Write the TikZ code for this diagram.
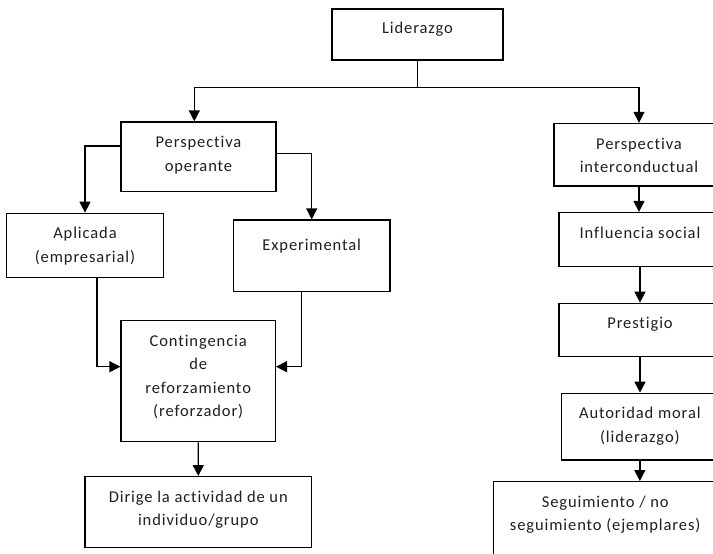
\documentclass[tikz,border=0pt]{standalone}
\usepackage{fontspec}
\setmainfont{Carlito}[LetterSpace=5.5, Ligatures=NoCommon]
\usetikzlibrary{arrows.meta}
\newcommand\bxt[4][25.5]{\parbox[c][#3pt][t]{#2pt}{\centering\rule{0pt}{#1pt}#4}}
\begin{document}
\begin{tikzpicture}[x=1pt,y=-1pt,
  box/.style={draw, line width=1.3pt, inner sep=0pt, text=black!88, font=\fontsize{16.5}{23.5}\selectfont},
  conn/.style={line width=1.3pt},
  arr/.style={conn, -{Triangle[width=11pt,length=11pt]}}]
\useasboundingbox (0,0) rectangle (713,554);
\clip (0,0) rectangle (713,554);
\fill[white] (0,0) rectangle (713,554);
% boxes
\node[box] (lid) at (417.5,34.5) {\bxt[25]{171}{51}{Liderazgo}};
\node[box] (po) at (198.5,156.75) {\bxt{155}{69.5}{Perspectiva\\operante}};
\node[box] (pi) at (639,154.75) {\bxt{170}{62.5}{Perspectiva\\interconductual}};
\node[box] (apl) at (85,245.3) {\bxt{156.6}{64}{Aplicada\\(empresarial)}};
\node[box] (exp) at (311.7,255.85) {\bxt[30]{156.7}{71.7}{Experimental}};
\node[box] (con) at (198.2,381.2) {\bxt{154.3}{121}{Contingencia\\de\\reforzamiento\\(reforzador)}};
\node[box] (dir) at (198.3,512) {\bxt{226.7}{70.6}{Dirige la actividad de un\\individuo/grupo}};
\node[box] (inf) at (640,239.5) {\bxt{162}{54}{Influencia social}};
\node[box] (pre) at (640,330) {\bxt{162}{53.4}{Prestigio}};
\node[box] (aut) at (639.85,426.65) {\bxt{156.3}{66.7}{Autoridad moral\\(liderazgo)}};
\node[box] (seg) at (605.2,526.7) {\bxt{223.7}{90}{Seguimiento / no\\seguimiento (ejemplares)}};
% connectors
\coordinate (j) at (lid.south |- 0,87.7);
\draw[conn] (lid.south) -- (j);
\draw[arr] (j) -| ([xshift=-4.2pt]po.north);
\draw[arr] (j) -| (pi.north);
\draw[arr] ([yshift=10.75pt]po.west) -| (apl.north);
\draw[arr] ([yshift=3.45pt]po.east) -| (exp.north);
\draw[arr] ([xshift=12pt]apl.south) |- ([yshift=14.5pt]con.west);
\draw[arr] ([xshift=-10pt]exp.south) |- ([yshift=14.5pt]con.east);
\draw[arr] (con.south) -- (dir.north);
\draw[arr] (pi.south) -- (pi.south |- inf.north);
\draw[arr] (inf.south) -- (inf.south |- pre.north);
\draw[arr] (pre.south) -- (pre.south |- aut.north);
\draw[arr] (aut.south) -- (aut.south |- seg.north);
\end{tikzpicture}
\end{document}
